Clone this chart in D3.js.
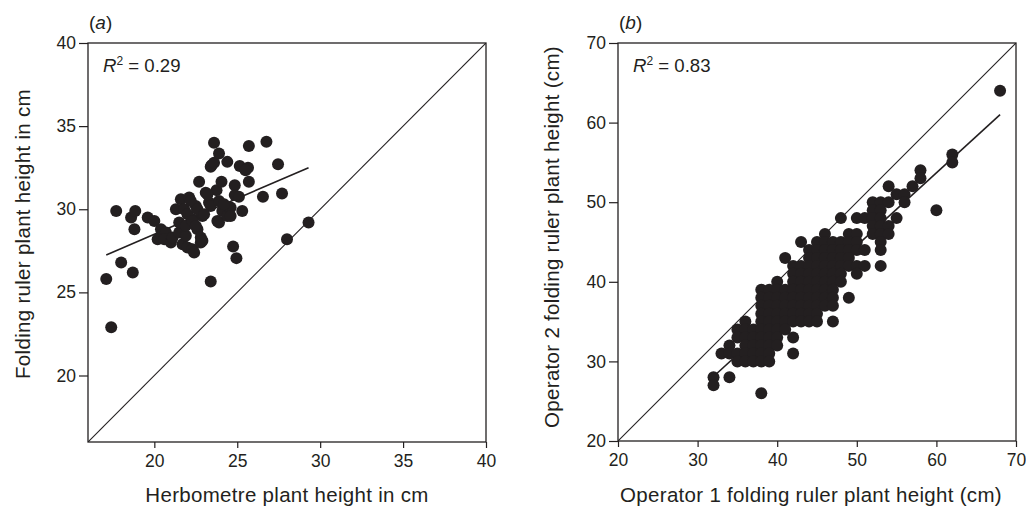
<!DOCTYPE html>
<html>
<head>
<meta charset="utf-8">
<script src="https://cdn.jsdelivr.net/npm/d3@7"></script>
<style>
  body { margin: 0; background: #fff; }
  svg { display: block; font-family: "Liberation Sans", Arial, Helvetica, sans-serif; }
</style>
</head>
<body>
<svg id="chart" width="1026" height="509"></svg>
<script>
// panel (a): herbometre vs folding ruler
const ticksA = [20, 25, 30, 35, 40];
const pointsA = [
  [17.1, 25.8], [17.4, 22.9], [17.7, 29.9], [18.0, 26.8], [18.7, 26.2], [18.6, 29.5], [18.85, 29.9], [18.8, 28.8],
  [19.6, 29.5], [20.0, 29.3], [20.2, 28.2], [20.4, 28.8], [20.7, 28.6], [20.6, 28.2], [21.0, 28.0], [21.1, 28.3],
  [21.3, 30.0], [21.5, 28.6], [21.5, 29.2], [21.6, 30.6], [21.7, 27.9], [21.8, 30.0], [21.9, 28.4], [21.9, 29.0],
  [22.0, 27.7], [22.1, 30.7], [22.3, 29.4], [22.3, 27.6], [22.4, 27.4], [22.5, 30.2], [22.6, 28.8], [22.8, 28.3],
  [22.8, 28.0], [22.9, 29.6], [22.7, 31.65], [22.9, 28.1], [23.1, 31.0], [23.3, 30.4], [23.4, 30.2], [23.4, 32.55],
  [23.6, 34.0], [23.45, 32.65], [23.6, 32.8], [23.75, 31.15], [23.8, 29.3], [23.9, 29.2], [23.9, 30.5], [23.9, 33.35],
  [24.05, 31.65], [24.1, 29.9], [24.4, 32.85], [24.4, 29.6], [24.6, 30.1], [24.6, 29.6], [24.2, 30.3], [24.75, 27.76],
  [24.85, 31.45], [24.85, 30.85], [24.95, 27.06], [25.15, 32.6], [25.3, 29.9], [25.1, 30.75], [25.65, 32.5], [25.7, 33.8],
  [25.7, 31.65], [25.5, 32.35], [26.55, 30.75], [26.76, 34.06], [27.46, 32.7], [27.7, 30.95], [28.0, 28.2], [29.3, 29.2],
  [23.4, 25.65], [22.0, 29.7], [22.2, 30.5], [22.6, 30.0], [23.0, 29.7], [23.2, 30.9], [22.3, 29.3], [22.5, 29.0]
];
const fitA = [[17.1, 27.25], [29.3, 32.5]];

// panel (b): operator 1 vs operator 2, rows of operator 1 values for each operator 2 value
const ticksB = [20, 30, 40, 50, 60, 70];
const rowsB = [
  [64, [68]],
  [56, [62]],
  [55, [62]],
  [54, [58]],
  [53, [58]],
  [52, [54, 57]],
  [51, [55, 56]],
  [50, [52, 53, 54, 56]],
  [49, [52, 53, 60]],
  [48, [48, 50, 51, 52, 53, 55]],
  [47, [52, 53, 54]],
  [46, [46, 49, 50, 52, 53, 54]],
  [45, [43, 45, 46, 47, 48, 49, 50, 53]],
  [44, [44, 45, 46, 47, 48, 49, 50, 51, 53]],
  [43, [41, 44, 45, 46, 47, 48, 49]],
  [42, [42, 43, 44, 45, 46, 47, 48, 49, 50, 51, 53]],
  [41, [42, 43, 44, 45, 46, 47, 48, 50]],
  [40, [40, 42, 43, 44, 45, 46, 47, 48]],
  [39, [38, 39, 40, 41, 42, 43, 44, 45, 46, 47]],
  [38, [38, 39, 40, 41, 42, 43, 44, 45, 46, 47, 49]],
  [37, [38, 39, 40, 41, 42, 43, 44, 45, 46, 47]],
  [36, [38, 39, 40, 41, 42, 43, 44, 45]],
  [35, [36, 38, 39, 40, 41, 42, 43, 44, 45, 47]],
  [34, [35, 36, 37, 38, 39, 40, 41]],
  [33, [35, 36, 37, 38, 39, 40, 42]],
  [32, [34, 36, 37, 38, 39, 40]],
  [31, [33, 34, 35, 36, 37, 38, 39, 42]],
  [30, [35, 36, 37, 38, 39]],
  [28, [32, 34]],
  [27, [32]],
  [26, [38]]
];
const pointsB = rowsB.flatMap(([yv, xs]) => xs.map(xv => [xv, yv]));
const fitB = [[32, 28.1], [68, 61]];

const ink = '#231f20';
const svg = d3.select('#chart');

const drawPanel = (cfg) => {
  const x = d3.scaleLinear().domain(cfg.domain).range([cfg.left, cfg.right]);
  const y = d3.scaleLinear().domain(cfg.domain).range([cfg.bottom, cfg.top]);
  const g = svg.append('g');

  // clip for the 1:1 line
  const clipId = 'clip-' + cfg.tag;
  g.append('clipPath').attr('id', clipId)
    .append('rect')
    .attr('x', cfg.left).attr('y', cfg.top)
    .attr('width', cfg.right - cfg.left).attr('height', cfg.bottom - cfg.top);

  const line = d3.line().x(d => x(d[0])).y(d => y(d[1]));

  g.append('path')
    .attr('clip-path', `url(#${clipId})`)
    .attr('d', line([[cfg.domain[0], cfg.domain[0]], [cfg.domain[1], cfg.domain[1]]]))
    .attr('stroke', ink).attr('stroke-width', 1.1).attr('fill', 'none');

  g.append('path')
    .attr('d', line(cfg.fit))
    .attr('stroke', ink).attr('stroke-width', 1.6).attr('fill', 'none');

  g.selectAll('circle.dot')
    .data(cfg.points)
    .enter()
    .append('circle')
    .attr('class', 'dot')
    .attr('cx', d => x(d[0]))
    .attr('cy', d => y(d[1]))
    .attr('r', cfg.r)
    .attr('fill', ink);

  // axes
  const xAxis = g.append('g')
    .attr('transform', `translate(0, ${cfg.bottom})`)
    .call(d3.axisBottom(x).tickValues(cfg.ticks).tickSize(6).tickPadding(7).tickSizeOuter(0));
  const yAxis = g.append('g')
    .attr('transform', `translate(${cfg.left}, 0)`)
    .call(d3.axisLeft(y).tickValues(cfg.ticks).tickSize(9).tickPadding(3).tickSizeOuter(0));

  [xAxis, yAxis].forEach(a => {
    a.select('.domain').remove();
    a.selectAll('line').attr('stroke', ink).attr('stroke-width', 1.2);
    a.selectAll('text')
      .attr('fill', ink)
      .attr('font-size', 17.5)
      .attr('font-family', '"Liberation Sans", Arial, sans-serif');
  });

  g.append('rect')
    .attr('x', cfg.left).attr('y', cfg.top)
    .attr('width', cfg.right - cfg.left).attr('height', cfg.bottom - cfg.top)
    .attr('fill', 'none').attr('stroke', ink).attr('stroke-width', 1.3);

  // panel letter
  const letter = g.append('text')
    .attr('x', cfg.left + 1).attr('y', 29)
    .attr('font-size', 19).attr('fill', ink);
  letter.append('tspan').text('(');
  letter.append('tspan').attr('font-style', 'italic').text(cfg.tag);
  letter.append('tspan').text(')');

  // R squared
  const r2 = g.append('text')
    .attr('x', cfg.left + 15).attr('y', cfg.top + 29)
    .attr('font-size', 18.6).attr('fill', ink);
  r2.append('tspan').attr('font-style', 'italic').text('R');
  r2.append('tspan').attr('font-size', 12).attr('dy', -7).text('2');
  r2.append('tspan').attr('dy', 7).text(' = ' + cfg.r2);

  g.append('text')
    .attr('x', (cfg.left + cfg.right) / 2 + cfg.xLabelShift)
    .attr('y', 502)
    .attr('text-anchor', 'middle')
    .attr('font-size', 20.5).attr('letter-spacing', 0.3).attr('fill', ink)
    .text(cfg.xLabel);

  g.append('text')
    .attr('transform', `translate(${cfg.yLabelX}, ${cfg.yLabelY}) rotate(-90)`)
    .attr('text-anchor', 'middle')
    .attr('font-size', 20.5).attr('letter-spacing', 0.3).attr('fill', ink)
    .text(cfg.yLabel);
};

drawPanel({
  tag: 'a', domain: [16, 40], ticks: ticksA, points: pointsA, fit: fitA, r: 6,
  left: 88, right: 486, top: 43, bottom: 442, r2: '0.29',
  xLabel: 'Herbometre plant height in cm', xLabelShift: 0,
  yLabel: 'Folding ruler plant height in cm', yLabelX: 30, yLabelY: 234
});

drawPanel({
  tag: 'b', domain: [20, 70], ticks: ticksB, points: pointsB, fit: fitB, r: 6,
  left: 618, right: 1016, top: 43, bottom: 441, r2: '0.83',
  xLabel: 'Operator 1 folding ruler plant height (cm)', xLabelShift: -6,
  yLabel: 'Operator 2 folding ruler plant height (cm)', yLabelX: 559, yLabelY: 237
});
</script>
</body>
</html>
